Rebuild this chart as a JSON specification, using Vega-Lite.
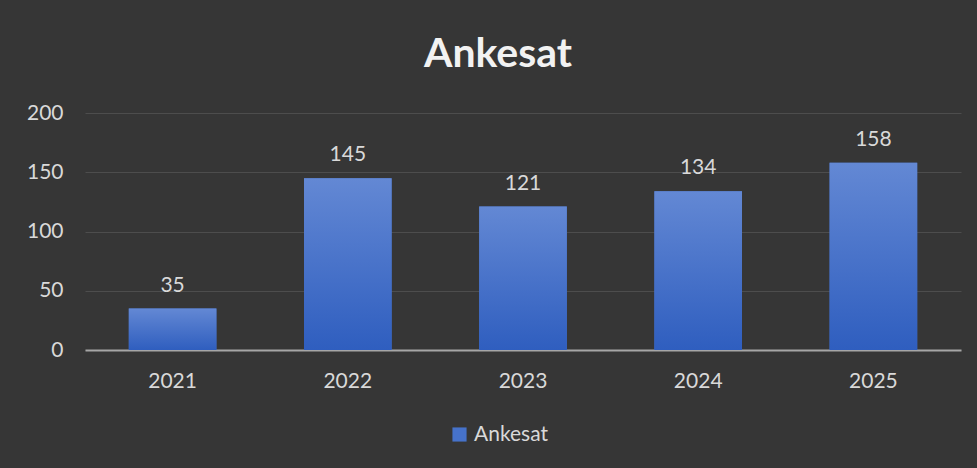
{
  "$schema": "https://vega.github.io/schema/vega-lite/v6.json",
  "width": 876,
  "height": 237,
  "autosize": {"type": "none"},
  "padding": {"left": 85, "top": 113, "right": 16, "bottom": 118},
  "background": "#363636",
  "config": {"view": {"stroke": null}},
  "title": {
    "text": "Ankesat",
    "font": "Lato",
    "fontSize": 41,
    "fontWeight": "bold",
    "color": "#f2f2f2",
    "anchor": "middle",
    "frame": "group",
    "dx": -25,
    "offset": 26
  },
  "data": {
    "values": [
      {"year": "2021", "value": 35, "series": "Ankesat"},
      {"year": "2022", "value": 145, "series": "Ankesat"},
      {"year": "2023", "value": 121, "series": "Ankesat"},
      {"year": "2024", "value": 134, "series": "Ankesat"},
      {"year": "2025", "value": 158, "series": "Ankesat"}
    ]
  },
  "encoding": {
    "x": {
      "field": "year",
      "type": "nominal",
      "scale": {"paddingInner": 0.5, "paddingOuter": 0.25},
      "axis": {
        "title": null,
        "labelAngle": 0,
        "ticks": false,
        "tickSize": 0,
        "domainColor": "#a6a6a6",
        "domainWidth": 2,
        "labelPadding": 20,
        "labelFont": "Lato",
        "labelFontSize": 21,
        "labelColor": "#d9d9d9",
        "grid": false
      }
    },
    "y": {
      "field": "value",
      "type": "quantitative",
      "scale": {"domain": [0, 200]},
      "axis": {
        "title": null,
        "values": [0, 50, 100, 150, 200],
        "ticks": false,
        "tickSize": 0,
        "domain": false,
        "gridColor": "#4d4d4d",
        "gridWidth": 1,
        "labelPadding": 22,
        "labelFont": "Lato",
        "labelFontSize": 21,
        "labelColor": "#d9d9d9"
      }
    }
  },
  "layer": [
    {
      "mark": {"type": "bar"},
      "encoding": {
        "color": {
          "field": "series",
          "type": "nominal",
          "scale": {"range": ["#4672ca"]},
          "legend": {
            "title": null,
            "orient": "none",
            "legendX": 364,
            "legendY": 311,
            "symbolType": "square",
            "symbolSize": 200,
            "symbolStrokeWidth": 0,
            "symbolOpacity": 1,
            "labelFont": "Lato",
            "labelFontSize": 21,
            "labelColor": "#d9d9d9",
            "labelOffset": 4
          }
        }
      }
    },
    {
      "mark": {
        "type": "bar",
        "fill": {
          "gradient": "linear",
          "x1": 0, "y1": 0, "x2": 0, "y2": 1,
          "stops": [
            {"offset": 0, "color": "#6388d4"},
            {"offset": 1, "color": "#2f5ebf"}
          ]
        }
      }
    },
    {
      "mark": {
        "type": "text",
        "dy": -17,
        "baseline": "alphabetic",
        "font": "Lato",
        "fontSize": 21,
        "color": "#d9d9d9"
      },
      "encoding": {
        "text": {"field": "value", "type": "quantitative"}
      }
    }
  ]
}
